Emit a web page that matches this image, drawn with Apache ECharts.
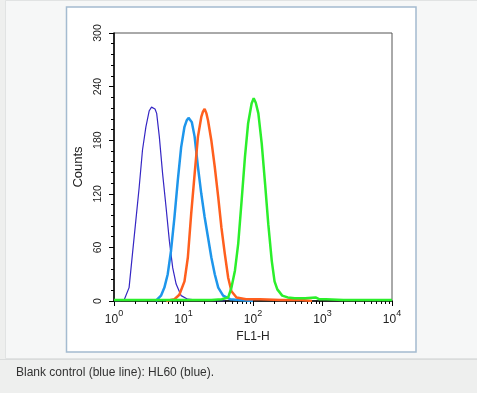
<!DOCTYPE html>
<html>
<head>
<meta charset="utf-8">
<script src="https://cdn.jsdelivr.net/npm/echarts@6/dist/echarts.min.js"></script>
<style>
html,body{margin:0;padding:0;background:#eeefee;}
#chart{width:477px;height:393px;}
</style>
</head>
<body>
<div id="chart"></div>
<script>
// x positions are log10(FL1-H)
const darkBlueX = [0, 0.10, 0.15, 0.17, 0.217, 0.266, 0.314, 0.362, 0.41, 0.459, 0.507, 0.54, 0.565, 0.59, 0.614, 0.652, 0.70, 0.749, 0.797, 0.845, 0.894, 0.966, 1.06, 1.2, 1.35, 1.5, 1.6];
const darkBlueY = [0, 0.5, 2, 4, 15, 53, 90, 127, 169, 195, 213, 217, 218, 215, 210, 184, 142, 105, 67, 37, 19, 6, 2, 1, 1, 0, 0];

const lightBlueX = [0.6, 0.676, 0.725, 0.773, 0.82, 0.87, 0.918, 0.966, 1.014, 1.045, 1.072, 1.1, 1.12, 1.16, 1.208, 1.256, 1.304, 1.353, 1.40, 1.45, 1.50, 1.57, 1.67, 1.8, 2.0];
const lightBlueY = [0, 6, 15, 30, 56, 94, 135, 172, 195, 202, 205, 203, 200, 184, 150, 120, 94, 71, 49, 30, 15, 6, 2, 1, 0];

const orangeX = [0.75, 0.87, 0.94, 1.014, 1.063, 1.11, 1.16, 1.208, 1.256, 1.28, 1.304, 1.33, 1.353, 1.40, 1.45, 1.50, 1.546, 1.594, 1.643, 1.69, 1.763, 1.9, 2.1, 2.4, 2.7, 2.85];
const orangeY = [0, 2, 7, 22, 49, 97, 142, 184, 206, 212, 215, 210, 202, 180, 150, 116, 82, 53, 26, 11, 4, 2, 2, 1, 1, 0];

const greenX = [0, 0.5, 1.0, 1.4, 1.55, 1.643, 1.69, 1.74, 1.787, 1.836, 1.884, 1.93, 1.98, 2.01, 2.04, 2.077, 2.126, 2.174, 2.22, 2.27, 2.31, 2.35, 2.42, 2.5, 2.6, 2.75, 2.9, 2.95, 3.05, 3.3, 3.6, 4.0];
const greenY = [1, 1, 1, 1, 2, 4, 15, 34, 64, 112, 161, 199, 221, 227, 222, 210, 176, 131, 86, 45, 22, 13, 6, 4, 3, 3, 4, 2, 2, 1, 1, 1];

const xDecades = [0, 1, 2, 3, 4];
const minorMultipliers = [2, 3, 4, 5, 6, 7, 8, 9];
const yTicks = [0, 60, 120, 180, 240, 300];
const caption = 'Blank control (blue line): HL60 (blue).';

const minorTickValues = [];
for (let d = 0; d < xDecades.length - 1; d++) {
  minorMultipliers.forEach(m => minorTickValues.push(xDecades[d] + Math.log10(m)));
}
function pairs(xs, ys) { return xs.map((x, i) => [x, ys[i]]); }

const FONT = 'Liberation Sans, Arial, sans-serif';
const chart = echarts.init(document.getElementById('chart'), null, {renderer: 'canvas'});
function lineSeries(name, xs, ys, color, width) {
  return {
    name, type: 'line', data: pairs(xs, ys), showSymbol: false, symbol: 'none',
    lineStyle: {color, width}, itemStyle: {color}, animation: false, z: 3
  };
}
chart.setOption({
  animation: false,
  backgroundColor: '#eeefee',
  graphic: [
    {type: 'rect', z: -10, shape: {x: 5.5, y: 0.5, width: 480, height: 358}, style: {fill: '#f6f7f7', stroke: '#e1e3e3', lineWidth: 1}},
    {type: 'line', z: -9, shape: {x1: 0, y1: 359.5, x2: 477, y2: 359.5}, style: {stroke: '#dadcdc', lineWidth: 1}},
    {type: 'rect', z: -8, shape: {x: 66.5, y: 7, width: 349.5, height: 345}, style: {fill: '#ffffff', stroke: '#a4bbd0', lineWidth: 1.5}},
    {type: 'text', z: 5, left: 16, top: 367, style: {text: caption, font: '12px ' + FONT, fill: '#333333'}}
  ],
  grid: {left: 114, right: 85, top: 33, bottom: 92, show: true, borderColor: '#555', borderWidth: 1, backgroundColor: 'transparent'},
  xAxis: [
    {
      type: 'value', min: xDecades[0], max: xDecades[xDecades.length - 1], interval: 1,
      name: 'FL1-H', nameLocation: 'middle', nameGap: 28,
      nameTextStyle: {fontFamily: FONT, fontSize: 12, color: '#222'},
      axisLine: {lineStyle: {color: '#000', width: 1.5}},
      axisTick: {length: 5, lineStyle: {color: '#000', width: 1}},
      splitLine: {show: false},
      axisLabel: {
        margin: 8, color: '#222',
        formatter: v => '{b|10}{s|' + Math.round(v) + '}',
        rich: {
          b: {fontFamily: FONT, fontSize: 12, lineHeight: 22, color: '#222'},
          s: {fontFamily: FONT, fontSize: 9, lineHeight: 8, verticalAlign: 'top', color: '#222'}
        }
      }
    },
    {
      type: 'value', min: xDecades[0], max: xDecades[xDecades.length - 1], position: 'bottom',
      axisLine: {show: false}, axisLabel: {show: false}, splitLine: {show: false},
      axisTick: {show: true, length: 3, customValues: minorTickValues, lineStyle: {color: '#000', width: 1}}
    }
  ],
  yAxis: {
    type: 'value', min: yTicks[0], max: yTicks[yTicks.length - 1], interval: 60,
    name: 'Counts', nameLocation: 'middle', nameGap: 26, nameRotate: 90,
    nameTextStyle: {fontFamily: FONT, fontSize: 13, color: '#222'},
    axisLine: {show: true, lineStyle: {color: '#000', width: 1.5}},
    axisTick: {show: true, length: 5, lineStyle: {color: '#000', width: 1}},
    minorTick: {show: true, splitNumber: 5, length: 3, lineStyle: {color: '#000', width: 1}},
    splitLine: {show: false},
    axisLabel: {rotate: 90, margin: 10, fontFamily: FONT, fontSize: 10.5, color: '#222'}
  },
  series: [
    lineSeries('Blank control', darkBlueX, darkBlueY, '#3526c4', 1.2),
    lineSeries('Light blue', lightBlueX, lightBlueY, '#1e96eb', 2.5),
    lineSeries('Orange', orangeX, orangeY, '#ff5f1e', 2.5),
    lineSeries('Green', greenX, greenY, '#2bef2b', 2.5)
  ]
});
</script>
</body>
</html>
